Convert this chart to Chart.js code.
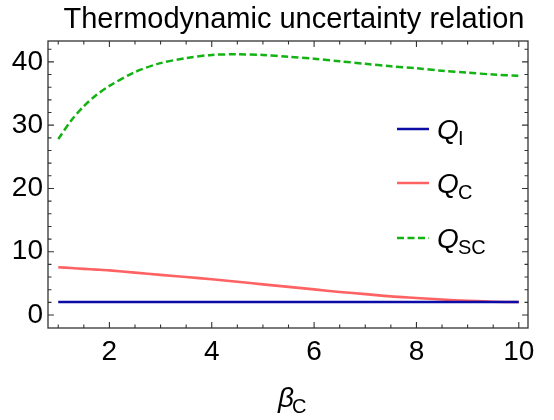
<!DOCTYPE html>
<html>
<head>
<title>Thermodynamic uncertainty relation</title>
<script src="https://cdn.jsdelivr.net/npm/chart.js@4.4.0/dist/chart.umd.min.js"></script>
<style>
body { margin: 0; background: #ffffff; }
#wrap { width: 554px; height: 420px; }
</style>
</head>
<body>
<div id="wrap"><canvas id="tur"></canvas></div>
<script>
// beta_C sample points and the three curves
var betaC = [1, 1.25, 1.5, 1.75, 2, 2.5, 3, 3.5, 4, 4.5, 5, 5.5, 6, 6.5, 7, 7.5, 8, 8.5, 9, 9.5, 10];
var qI  = [2.05, 2.05, 2.05, 2.05, 2.05, 2.05, 2.05, 2.05, 2.05, 2.05, 2.05, 2.05, 2.05, 2.05, 2.05, 2.05, 2.05, 2.05, 2.05, 2.05, 2.05];
var qC  = [7.55, 7.42, 7.3, 7.18, 7.05, 6.7, 6.35, 6.0, 5.65, 5.25, 4.85, 4.45, 4.05, 3.65, 3.3, 2.95, 2.7, 2.45, 2.25, 2.1, 2.05];
var qSC = [27.8, 30.7, 33.0, 34.8, 36.2, 38.4, 39.8, 40.6, 41.1, 41.2, 41.1, 40.8, 40.5, 40.1, 39.7, 39.3, 39.0, 38.6, 38.3, 38.0, 37.8];
var xTicks = [2, 4, 6, 8, 10];
var yTicks = [0, 10, 20, 30, 40];
var legendSubs = ['I', 'C', 'SC'];

var c_blue = '#0b0ba6';
var c_red = '#ff6262';
var c_green = '#12b312';

function pts(ys) {
  return betaC.map(function (x, i) { return { x: x, y: ys[i] }; });
}

// frame with inward ticks, title, axis label and legend
var decor = {
  id: 'decor',
  afterDatasetsDraw: function (chart) {
    var ctx = chart.ctx, a = chart.chartArea;
    var xs = chart.scales.x, ys = chart.scales.y;
    ctx.save();
    ctx.strokeStyle = '#333333';
    ctx.lineWidth = 1.3;
    ctx.strokeRect(a.left, a.top, a.right - a.left, a.bottom - a.top);
    ctx.lineWidth = 1.1;
    ctx.beginPath();
    for (var v = 1; v <= 10.001; v += 0.5) {
      var px = xs.getPixelForValue(v);
      var len = (Math.abs(v % 2) < 0.01) ? 6 : 3.5;
      ctx.moveTo(px, a.bottom); ctx.lineTo(px, a.bottom - len);
      ctx.moveTo(px, a.top); ctx.lineTo(px, a.top + len);
    }
    for (var w = 0; w <= 42; w += 2) {
      var py = ys.getPixelForValue(w);
      var l2 = (w % 10 === 0) ? 6 : 3.5;
      ctx.moveTo(a.left, py); ctx.lineTo(a.left + l2, py);
      ctx.moveTo(a.right, py); ctx.lineTo(a.right - l2, py);
    }
    ctx.stroke();

    // title
    ctx.fillStyle = '#000000';
    ctx.textAlign = 'center';
    ctx.textBaseline = 'alphabetic';
    ctx.font = '29px "Liberation Sans", Arial';
    ctx.fillText('Thermodynamic uncertainty relation', 294, 28);

    // x axis label beta_C
    ctx.textAlign = 'left';
    ctx.font = 'italic 28px "Liberation Sans", Arial';
    ctx.fillText('\u03b2', 278, 407);
    ctx.font = '20px "Liberation Sans", Arial';
    ctx.fillText('C', 292, 413);

    // legend
    var rows = [
      { color: c_blue, dash: [], y: 129 },
      { color: c_red, dash: [], y: 183 },
      { color: c_green, dash: [7, 3.5], y: 238 }
    ];
    rows.forEach(function (r, i) {
      ctx.strokeStyle = r.color;
      ctx.lineWidth = 2.5;
      ctx.setLineDash(r.dash);
      ctx.beginPath();
      ctx.moveTo(397, r.y); ctx.lineTo(429, r.y);
      ctx.stroke();
      ctx.setLineDash([]);
      ctx.fillStyle = '#000000';
      ctx.font = 'italic 28px "Liberation Sans", Arial';
      ctx.fillText('Q', 437, r.y + 10);
      ctx.font = '20px "Liberation Sans", Arial';
      ctx.fillText(legendSubs[i], 458, r.y + 16);
    });
    ctx.restore();
  }
};

var tickFont = { family: '"Liberation Sans", Arial', size: 28 };

new Chart(document.getElementById('tur'), {
  type: 'line',
  data: {
    datasets: [
      { label: 'Q_I', data: pts(qI), borderColor: c_blue, borderWidth: 2.6, pointRadius: 0, tension: 0 },
      { label: 'Q_C', data: pts(qC), borderColor: c_red, borderWidth: 2.6, pointRadius: 0, tension: 0.3 },
      { label: 'Q_SC', data: pts(qSC), borderColor: c_green, borderWidth: 2.5, borderDash: [7, 3.5], pointRadius: 0, tension: 0.3 }
    ]
  },
  options: {
    responsive: true,
    maintainAspectRatio: false,
    animation: false,
    layout: { padding: { top: 41, right: 26, left: 0, bottom: 0 } },
    plugins: { legend: { display: false }, tooltip: { enabled: false }, title: { display: false } },
    scales: {
      x: {
        type: 'linear', min: 0.8, max: 10.18,
        grid: { display: false, drawTicks: false },
        border: { display: false },
        afterFit: function (s) { s.height = 92; },
        afterBuildTicks: function (s) { s.ticks = xTicks.map(function (v) { return { value: v }; }); },
        ticks: { font: tickFont, color: '#000000', padding: 7, maxRotation: 0 }
      },
      y: {
        type: 'linear', min: -2.05, max: 43.3,
        grid: { display: false, drawTicks: false },
        border: { display: false },
        afterFit: function (s) { s.width = 48; },
        afterBuildTicks: function (s) { s.ticks = yTicks.map(function (v) { return { value: v }; }); },
        ticks: { font: tickFont, color: '#000000', padding: 5 }
      }
    }
  },
  plugins: [decor]
});
</script>
</body>
</html>
